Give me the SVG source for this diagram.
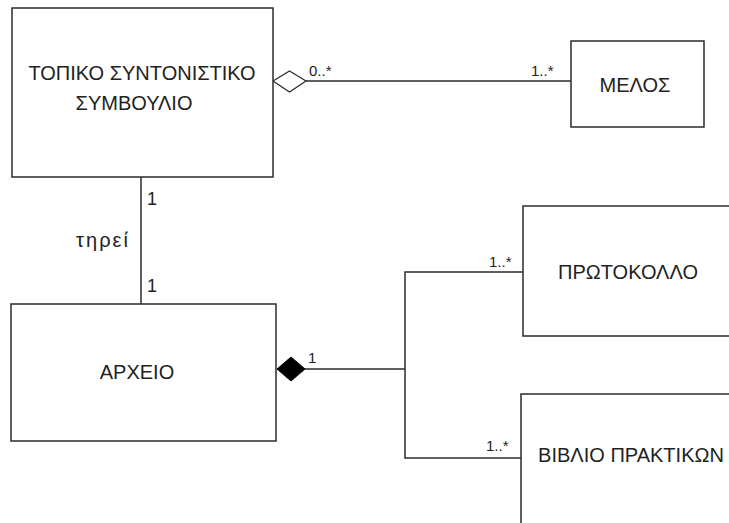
<svg xmlns="http://www.w3.org/2000/svg" width="729" height="523" viewBox="0 0 729 523">
<style>
.box{fill:#fff;stroke:#2b2b2b;stroke-width:1.5}
.ln{fill:none;stroke:#2b2b2b;stroke-width:1.5}
.t{font-family:"Liberation Sans",Arial,sans-serif;font-size:20px;fill:#222;text-anchor:middle}
.m{font-family:"Liberation Sans",Arial,sans-serif;font-size:15px;fill:#222}
.one{font-family:"Liberation Sans",Arial,sans-serif;font-size:18px;fill:#222}
</style>
<rect width="729" height="523" fill="#fff"/>
<g id="connectors">
<g id="c-melos">
<line class="ln" x1="306" y1="81" x2="571" y2="81"/>
<polygon points="273,81 289.5,71 306,81 289.5,92" fill="#fff" stroke="#2b2b2b" stroke-width="1.2"/>
<text class="m" x="309" y="76">0..*</text>
<text class="m" x="531" y="76">1..*</text>
</g>
<g id="c-tirei">
<line class="ln" x1="141" y1="177" x2="141" y2="304"/>
<text class="one" x="147" y="205">1</text>
<text class="one" x="147" y="292">1</text>
<text class="t" x="102" y="247" font-size="21" textLength="52" lengthAdjust="spacing">τηρεί</text>
</g>
<g id="c-arxeio">
<polyline class="ln" points="305,369 405,369"/>
<polyline class="ln" points="523,272 405,272 405,458 521,458"/>
<polygon points="277,369 291,357 305,369 291,381" fill="#000" stroke="#000" stroke-width="1"/>
<text class="m" x="308" y="363">1</text>
<text class="m" x="489" y="267">1..*</text>
<text class="m" x="486" y="451">1..*</text>
</g>
</g>
<g id="node-tss">
<rect class="box" x="12" y="8" width="261" height="169"/>
<text class="t" x="142" y="80">ΤΟΠΙΚΟ ΣΥΝΤΟΝΙΣΤΙΚΟ</text>
<text class="t" x="134" y="110">ΣΥΜΒΟΥΛΙΟ</text>
</g>
<g id="node-melos">
<rect class="box" x="571" y="41" width="133" height="86"/>
<text class="t" x="635" y="92">ΜΕΛΟΣ</text>
</g>
<g id="node-arxeio">
<rect class="box" x="11" y="304" width="265" height="137"/>
<text class="t" x="137" y="379">ΑΡΧΕΙΟ</text>
</g>
<g id="node-protokollo">
<rect class="box" x="523" y="206" width="220" height="130"/>
<text class="t" x="628" y="279">ΠΡΩΤΟΚΟΛΛΟ</text>
</g>
<g id="node-biblio">
<rect class="box" x="521" y="394" width="220" height="140"/>
<text class="t" x="631" y="462">ΒΙΒΛΙΟ ΠΡΑΚΤΙΚΩΝ</text>
</g>
</svg>
